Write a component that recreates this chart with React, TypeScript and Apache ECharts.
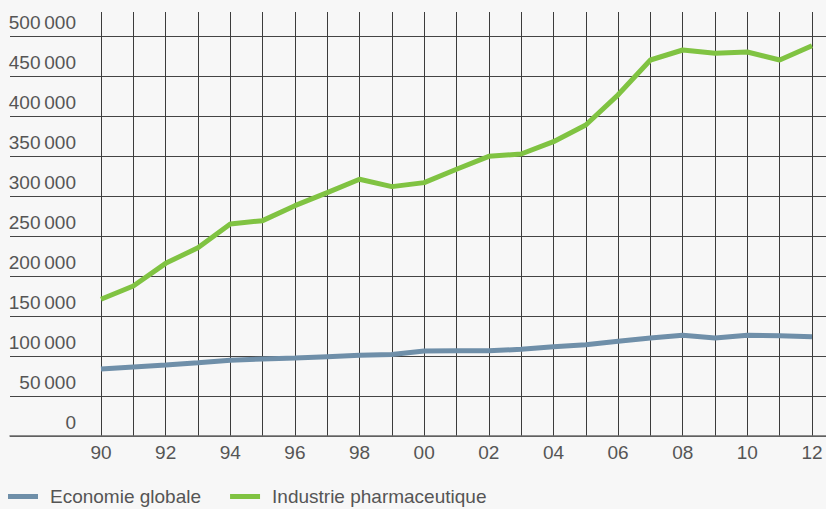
import React, { useEffect, useRef } from "react";
import * as echarts from "echarts";

const years = ["90","91","92","93","94","95","96","97","98","99","00","01","02","03","04","05","06","07","08","09","10","11","12"];
const economieGlobale = [83750,86250,88750,91600,94600,96250,97500,99200,100800,102000,106250,106500,106500,108300,111600,114100,118300,122500,125800,122500,125800,125400,124200];
const industriePharma = [171000,187500,215800,235400,265000,269200,287900,304200,321000,311700,316700,333400,349600,352500,367900,388750,426500,470000,482500,478400,480000,470000,487900];
const yTicks = [0,50000,100000,150000,200000,250000,300000,350000,400000,450000,500000];
const seriesNames = ["Economie globale", "Industrie pharmaceutique"];
const seriesColors = ["#6f8fa9", "#80c342"];

const fmt = (v: number) => {
  if (v === 0) return "0";
  const s = String(v);
  return s.slice(0, s.length - 3) + "\u2009" + s.slice(s.length - 3);
};

const FONT = "'Liberation Sans', Arial, sans-serif";
const TEXT = "#555555";

export default function App() {
  const ref = useRef<HTMLDivElement>(null);
  useEffect(() => {
    document.body.style.margin = "0";
    document.body.style.background = "#f7f7f7";
    const chart = echarts.init(ref.current!, undefined, { renderer: "svg" });
    chart.setOption({
      animation: false,
      backgroundColor: "#f7f7f7",
      textStyle: { fontFamily: FONT },
      grid: [
        { left: 10, right: 0, top: 36, bottom: 73 },
        { left: 101, right: 14, top: 12, bottom: 73 },
      ],
      xAxis: [
        {
          gridIndex: 0, type: "value", min: 0, max: 1, offset: 30,
          axisLine: { show: true, lineStyle: { color: "#6a6a6a", width: 1.5 } },
          axisTick: { show: false }, axisLabel: { show: false }, splitLine: { show: false },
        },
        {
          gridIndex: 1, type: "category", data: years, boundaryGap: false,
          axisLine: { show: false }, axisTick: { show: false },
          axisLabel: { interval: 1, margin: 7, fontSize: 19, color: TEXT, fontFamily: FONT },
          splitLine: { show: true, interval: 0, lineStyle: { color: "#3c3c3c", width: 1 } },
        },
      ],
      yAxis: [
        {
          gridIndex: 0, type: "value", min: 0, max: 500000, interval: 50000,
          axisLine: { show: false }, axisTick: { show: false }, axisLabel: { show: false },
          splitLine: { show: true, lineStyle: { color: "#444", width: 1 } },
        },
        {
          gridIndex: 1, type: "value", min: 0, max: 530000, interval: 50000,
          axisLine: { show: false }, axisTick: { show: false }, splitLine: { show: false },
          axisLabel: {
            margin: 25, fontSize: 19, color: TEXT, fontFamily: FONT,
            showMinLabel: true, hideOverlap: false,
            verticalAlign: "bottom", lineHeight: 28,
            formatter: (v: number) => (yTicks.includes(v) ? fmt(v) : ""),
          },
        },
      ],
      legend: {
        left: 8, top: 487, padding: 0, icon: "rect", itemWidth: 30, itemHeight: 5, itemGap: 29,
        textStyle: { fontSize: 19, color: TEXT, fontFamily: FONT, padding: [0, 0, 0, 7] },
        data: seriesNames,
      },
      series: [
        {
          name: seriesNames[0], type: "line", xAxisIndex: 1, yAxisIndex: 1,
          data: economieGlobale, symbol: "none", color: seriesColors[0],
          lineStyle: { width: 5, color: seriesColors[0] },
        },
        {
          name: seriesNames[1], type: "line", xAxisIndex: 1, yAxisIndex: 1,
          data: industriePharma, symbol: "none", color: seriesColors[1],
          lineStyle: { width: 5, color: seriesColors[1] },
        },
      ],
    });
    return () => chart.dispose();
  }, []);
  return <div ref={ref} style={{ position: "absolute", left: 0, top: 0, width: 826, height: 509 }} />;
}
